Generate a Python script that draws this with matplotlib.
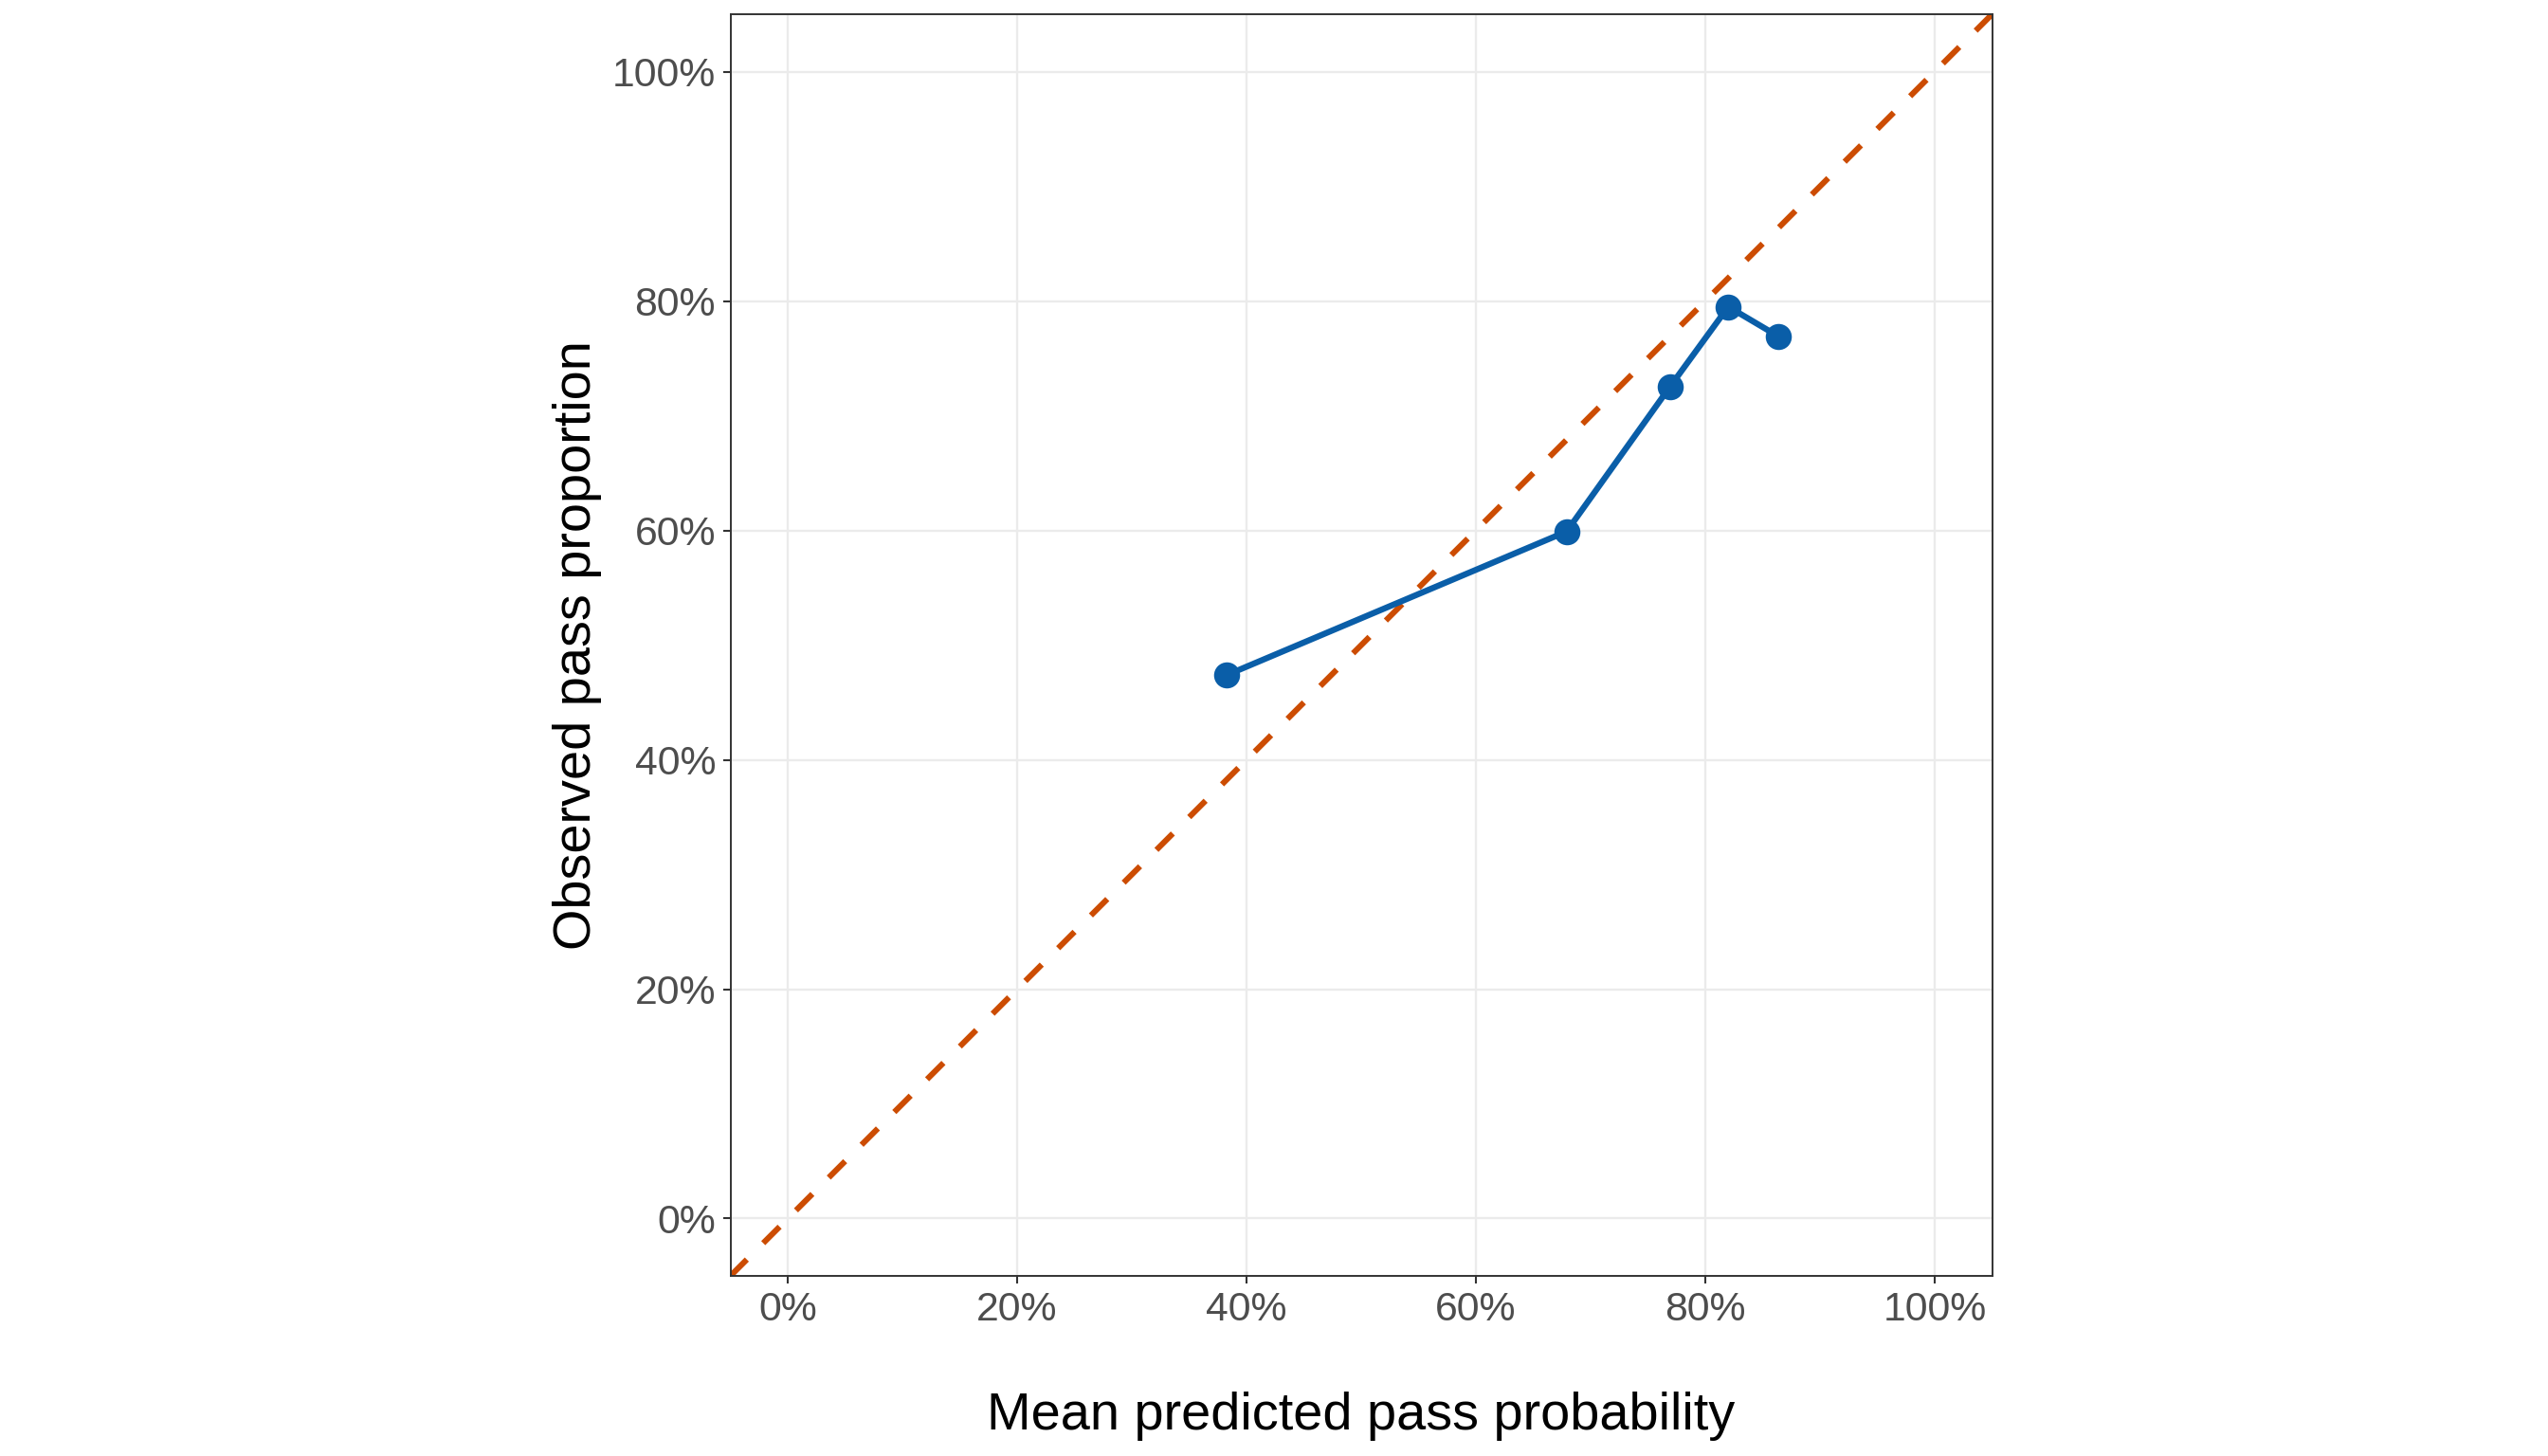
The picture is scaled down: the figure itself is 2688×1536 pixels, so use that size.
import matplotlib
matplotlib.use("Agg")
import matplotlib.pyplot as plt
from matplotlib.ticker import FuncFormatter

plt.rcParams['font.family'] = ['Liberation Sans', 'DejaVu Sans']

# Data
mean_predicted = [0.383, 0.679, 0.769, 0.820, 0.864]
observed = [0.474, 0.599, 0.725, 0.795, 0.769]
tick_values = [0.0, 0.2, 0.4, 0.6, 0.8, 1.0]
x_label = "Mean predicted pass probability"
y_label = "Observed pass proportion"

line_color = "#0A5EA8"
ref_color = "#CC4C02"

fig = plt.figure(figsize=(13.44, 7.68), dpi=200)
ax = fig.add_axes([0.2865, 0.1237, 0.4955, 0.8665])

ax.set_xlim(-0.05, 1.05)
ax.set_ylim(-0.05, 1.05)
ax.set_aspect('equal', adjustable='box')

ax.grid(True, color="#EBEBEB", linewidth=0.85, zorder=0)
ax.set_axisbelow(True)

ax.axline((0, 0), slope=1, color=ref_color, linewidth=2.2,
          linestyle=(0, (4.0, 4.0)), zorder=2)
ax.plot(mean_predicted, observed, color=line_color, linewidth=2.3,
        marker='o', markersize=8.9, zorder=3)

pct = FuncFormatter(lambda v, p: f"{v*100:.0f}%")
ax.set_xticks(tick_values)
ax.set_yticks(tick_values)
ax.xaxis.set_major_formatter(pct)
ax.yaxis.set_major_formatter(pct)
ax.tick_params(axis='both', which='major', labelsize=15.4, labelcolor="#4D4D4D",
               color="#333333", length=2.8, width=0.75, pad=2.8)

for s in ax.spines.values():
    s.set_color("#333333")
    s.set_linewidth(0.7)

ax.set_xlabel(x_label, fontsize=20.1, color="black", labelpad=24)
ax.set_ylabel(y_label, fontsize=20.1, color="black", labelpad=4)

fig.savefig("out.png", dpi=200, facecolor="white")
